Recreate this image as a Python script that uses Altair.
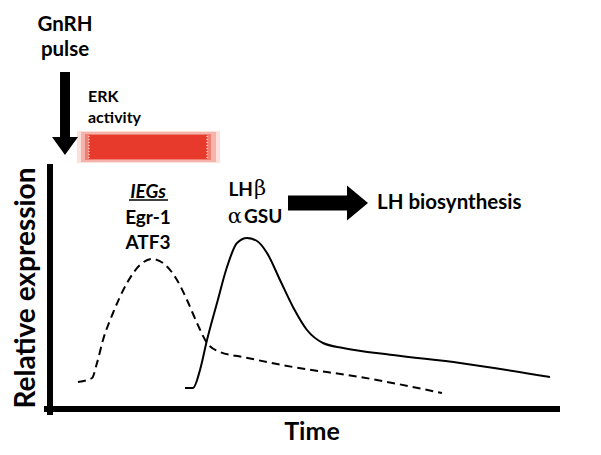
import altair as alt
import pandas as pd

# IEG (Egr-1, ATF3) expression curve, dashed
ieg_t = [28, 42, 47, 53, 63, 77, 90, 102, 113, 127, 137, 147, 157, 170, 193, 243, 310, 392]
ieg_e = [27, 31, 46, 69, 96, 126, 144, 150, 146, 129, 109, 86, 66, 57, 52, 42, 32, 16]

# LHbeta / alphaGSU expression curve, solid
lh_t = [135, 143, 150, 157, 167, 177, 187, 197, 207, 217, 230, 243, 257, 273, 293, 343, 410, 500]
lh_e = [21, 21, 39, 69, 106, 142, 166, 171, 168, 156, 129, 102, 79, 66, 61, 54, 46, 32]

# annotation texts (label, t, e)
big_labels = ["GnRH", "pulse"]
big_t = [15, 15]
big_e = [384, 359]

erk_labels = ["ERK", "activity"]
erk_t = [38, 38]
erk_e = [312, 291]

ieg_labels = ["Egr-1", "ATF3"]
ieg_lab_t = [98, 98]
ieg_lab_e = [191, 166]

X_DOM = [-42, 543]
Y_DOM = [-38, 401]
FONT = "Lato"


def xs(field="t"):
    return alt.X(f"{field}:Q", scale=alt.Scale(domain=X_DOM, nice=False, zero=False), axis=None)


def ys(field="e"):
    return alt.Y(f"{field}:Q", scale=alt.Scale(domain=Y_DOM, nice=False, zero=False), axis=None)


ieg_df = pd.DataFrame({"t": ieg_t, "e": ieg_e})
lh_df = pd.DataFrame({"t": lh_t, "e": lh_e})

ieg_line = alt.Chart(ieg_df).mark_line(
    color="black", strokeWidth=2, strokeDash=[8, 5], interpolate="monotone"
).encode(x=xs(), y=ys())

lh_line = alt.Chart(lh_df).mark_line(
    color="black", strokeWidth=2, interpolate="monotone"
).encode(x=xs(), y=ys())

# axes (thick L)
axes_df = pd.DataFrame({
    "t": [0, -3], "t2": [0, 507], "e": [-3, 0], "e2": [242, 0]
})
axes_lines = alt.Chart(axes_df).mark_rule(color="black", strokeWidth=6, strokeCap="square").encode(
    x=xs(), x2="t2:Q", y=ys(), y2="e2:Q"
)

# ERK activity bar with glow
bar_df = pd.DataFrame({
    "t": [27, 31, 35, 39], "t2": [170, 166, 161, 157],
    "e": [246, 247, 249, 250], "e2": [278, 277, 275, 274],
    "c": ["#fbe0dc", "#f6b3ab", "#ef7f73", "#e8392d"],
})
bar = alt.Chart(bar_df).mark_rect().encode(
    x=xs(), x2="t2:Q", y=ys(), y2="e2:Q", color=alt.Color("c:N", scale=None)
)
bar_edges_df = pd.DataFrame({"t": [39, 157], "e": [251, 251], "e2": [273, 273]})
bar_edges = alt.Chart(bar_edges_df).mark_rule(color="white", strokeWidth=1, strokeDash=[1, 2]).encode(
    x=xs(), y=ys(), y2="e2:Q"
)

# arrows as custom symbols
down_df = pd.DataFrame({"t": [15], "e": [295.5]})
down_arrow = alt.Chart(down_df).mark_point(
    shape="M-0.12,-1L0.12,-1L0.12,0.566L0.313,0.566L0,1L-0.313,0.566L-0.12,0.566Z",
    size=6889, filled=True, color="black", opacity=1, strokeWidth=0,
).encode(x=xs(), y=ys())

right_df = pd.DataFrame({"t": [278], "e": [206]})
right_arrow = alt.Chart(right_df).mark_point(
    shape="M-1,-0.19L0.475,-0.19L0.475,-0.44L1,0L0.475,0.44L0.475,0.19L-1,0.19Z",
    size=6400, filled=True, color="black", opacity=1, strokeWidth=0,
).encode(x=xs(), y=ys())


def text_layer(labels, t, e, size, align="center", style="normal", weight="bold", font=FONT, angle=0):
    df = pd.DataFrame({"label": labels, "t": t, "e": e})
    return alt.Chart(df).mark_text(
        font=font, fontSize=size, fontWeight=weight, fontStyle=style, align=align,
        baseline="middle", color="black", angle=angle,
    ).encode(x=xs(), y=ys(), text="label:N")


txt_gnrh = text_layer(big_labels, big_t, big_e, 20.5)
txt_erk = text_layer(erk_labels, erk_t, erk_e, 16, align="left")
txt_iegs = text_layer(["IEGs"], [98], [217], 19, style="italic")
iegs_ul_df = pd.DataFrame({"t": [79], "t2": [118], "e": [209]})
iegs_ul = alt.Chart(iegs_ul_df).mark_rule(color="black", strokeWidth=1.5).encode(
    x=xs(), x2="t2:Q", y=ys()
)
txt_ieg = text_layer(ieg_labels, ieg_lab_t, ieg_lab_e, 19)
txt_lh = text_layer(["LH"], [203], [219], 19, align="right")
txt_beta = text_layer(["β"], [204], [220], 21, align="left", weight="normal", font="DejaVu Serif")
txt_alpha = text_layer(["α"], [192], [192], 21, align="right", weight="normal", font="DejaVu Serif")
txt_gsu = text_layer(["GSU"], [194], [192], 19, align="left")
txt_lhb = text_layer(["LH biosynthesis"], [327], [206], 20.5, align="left")
txt_time = text_layer(["Time"], [262], [-23], 25)
txt_rel = text_layer(["Relative expression"], [-23], [121], 28, angle=270)

chart = alt.layer(
    bar, bar_edges, axes_lines, ieg_line, lh_line, down_arrow, right_arrow,
    txt_gnrh, txt_erk, txt_iegs, iegs_ul, txt_ieg, txt_lh, txt_beta, txt_alpha, txt_gsu,
    txt_lhb, txt_time, txt_rel,
).properties(
    width=585, height=439, padding=0, autosize=alt.AutoSizeParams(type="none")
).configure_view(stroke=None)

chart.save("out.html", embed_options={"renderer": "svg", "actions": False})
